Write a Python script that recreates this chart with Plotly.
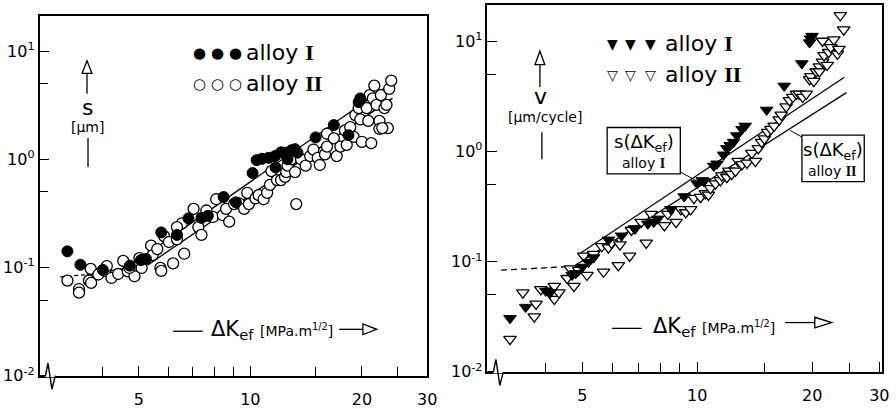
import plotly.graph_objects as go
import math

# ---------------- data: left panel, s [µm] vs ΔK_ef ----------------
s1_dk = [3.21, 3.48, 4.0, 4.73, 5.07, 5.23, 5.75, 6.34, 6.81, 7.38, 7.68, 8.47, 9.14,
         10.14, 10.4, 10.75, 11.2, 11.66, 12.1, 12.35, 11.7, 12.6, 12.9, 13.2, 13.4,
         15.0, 16.8, 18.4, 19.8, 19.6]
s1_s = [0.141, 0.106, 0.095, 0.104, 0.117, 0.12, 0.211, 0.20, 0.284, 0.287, 0.30, 0.448, 0.40,
        0.746, 0.98, 1.01, 1.03, 1.07, 1.16, 1.15, 0.84, 1.0, 1.21, 1.24, 1.15,
        1.59, 2.07, 1.67, 3.65, 3.37]

s2_dk = [3.21, 3.45, 3.45, 3.71, 3.67, 3.72, 3.89, 4.06, 4.10, 4.22, 4.40, 4.54, 4.67, 4.87,
         4.72, 5.02, 5.09, 5.40, 5.45, 5.61, 5.72, 5.75, 5.85, 6.03, 6.34, 6.19, 6.54, 6.34,
         6.63, 7.03, 7.24, 7.38, 7.61, 7.93, 8.09, 8.43, 8.6, 8.77, 9.04, 9.33, 9.62, 9.81,
         9.91, 10.32, 10.53, 10.86, 11.1, 11.4, 11.3, 11.8, 12.1, 12.4, 12.5, 12.6, 12.9,
         13.2, 13.3, 13.7, 14.1, 14.5, 14.8, 15.2, 15.4, 15.9, 16.1, 16.1, 16.8, 17.1, 17.5,
         18.0, 18.2, 18.6, 19.0, 19.2, 19.6, 19.8, 20.0, 20.6, 20.8, 21.0, 21.2, 21.4, 21.6,
         21.9, 22.3, 22.3, 22.5, 23.0, 23.3, 23.5, 23.7, 24.0, 22.7]
s2_s = [0.0757, 0.0632, 0.0585, 0.097, 0.0757, 0.072, 0.0861, 0.093, 0.103, 0.080, 0.087,
        0.115, 0.092, 0.083, 0.099, 0.122, 0.099, 0.159, 0.13, 0.148, 0.099, 0.093, 0.195,
        0.172, 0.182, 0.109, 0.256, 0.236, 0.134, 0.348, 0.236, 0.20, 0.336, 0.293, 0.427,
        0.304, 0.348, 0.265, 0.385, 0.39, 0.348, 0.49, 0.385, 0.435, 0.466, 0.427, 0.49,
        0.777, 0.58, 0.642, 0.642, 0.688, 0.762, 0.873, 1.0, 0.762, 0.385, 1.0, 0.873, 1.07,
        1.23, 1.03, 0.885, 1.11, 1.31, 1.72, 1.56, 1.07, 1.31, 1.85, 1.36, 1.98, 1.61, 2.56,
        2.97, 2.34, 1.45, 2.97, 2.26, 3.91, 1.41, 3.65, 4.79, 3.18, 2.26, 1.91, 3.91, 2.97,
        3.18, 1.94, 4.48, 5.33, 1.94]

# fitted s(ΔK_ef) curves, left panel
s_fit1_dk = [5.06, 23.9]
s_fit1_s = [0.121, 4.99]
s_fit2_dk = [5.28, 24.2]
s_fit2_s = [0.105, 3.67]
s_thr_dash_dk = [3.07, 3.62]
s_thr_dash_s = [0.082, 0.0857]
s_thr_solid_dk = [3.62, 4.5, 5.06]
s_thr_solid_s = [0.0857, 0.097, 0.121]

# ---------------- data: right panel, v [µm/cycle] vs ΔK_ef ----------------
v1_dk = [3.23, 3.55, 4.01, 4.11, 4.70, 4.80, 5.0, 5.19, 5.35, 5.85, 6.33, 6.85, 7.42, 7.88,
         8.53, 9.24, 10.0, 10.3, 11.05, 11.27, 11.72, 11.96, 12.2, 12.45, 12.7, 13.1, 13.35,
         15.2, 16.9, 18.8, 19.8, 20.0, 19.7, 6.87, 7.69, 10.4]
v1_v = [0.0306, 0.0387, 0.0542, 0.052, 0.0757, 0.0783, 0.0895, 0.099, 0.109, 0.158, 0.172,
        0.20, 0.221, 0.245, 0.299, 0.391, 0.512, 0.547, 0.74, 0.775, 0.935, 1.07, 1.14, 1.22,
        1.40, 1.60, 1.71, 2.39, 3.95, 6.31, 10.6, 11.2, 9.77, 0.199, 0.229, 0.535]

v2_dk = [3.23, 3.49, 3.74, 3.78, 3.89, 4.13, 4.22, 4.22, 4.34, 4.56, 4.65, 4.75, 4.89, 5.04,
         5.14, 5.35, 5.62, 5.68, 5.85, 5.96, 6.21, 6.27, 6.65, 6.72, 7.13, 7.35, 7.57, 7.72,
         8.2, 8.37, 8.8, 9.06, 9.33, 9.61, 9.8, 10.2, 10.5, 10.7, 10.83, 11.16, 11.5, 11.6,
         11.96, 12.1, 12.3, 12.6, 12.8, 13.1, 13.5, 13.9, 14.2, 14.45, 14.75, 15.0, 15.3,
         15.6, 15.9, 16.4, 16.6, 17.1, 17.45, 17.8, 18.2, 18.5, 18.9, 19.3, 19.7, 19.85,
         20.2, 20.5, 20.9, 21.3, 21.5, 21.9, 22.1, 22.4, 22.8, 23.3, 23.5, 24.2, 23.7,
         20.9, 21.3]
v2_v = [0.0198, 0.0524, 0.0317, 0.0414, 0.056, 0.0542, 0.0599, 0.0458, 0.0524, 0.0708,
        0.0866, 0.0599, 0.0837, 0.113, 0.0757, 0.117, 0.138, 0.081, 0.134, 0.148, 0.0926,
        0.143, 0.113, 0.194, 0.229, 0.148, 0.271, 0.237, 0.214, 0.271, 0.229, 0.299, 0.280,
        0.299, 0.378, 0.386, 0.418, 0.405, 0.463, 0.512, 0.547, 0.605, 0.585, 0.669, 0.625,
        0.669, 0.818, 0.765, 0.791, 0.967, 0.818, 1.07, 1.22, 1.31, 1.50, 1.60, 1.71, 1.95,
        2.16, 2.56, 2.92, 3.13, 3.34, 3.34, 3.13, 3.34, 4.52, 4.83, 4.37, 5.34, 5.91, 6.53,
        7.47, 6.11, 7.99, 8.84, 10.4, 7.72, 8.54, 12.8, 17.3, 5.34, 10.1]

# s(ΔK_ef) curves drawn in the right panel
v_fit1_dk = [4.89, 24.3]
v_fit1_v = [0.117, 4.74]
v_fit2_dk = [4.75, 24.6]
v_fit2_v = [0.091, 3.43]
v_thr_dash_dk = [3.06, 4.70]
v_thr_dash_v = [0.0838, 0.0907]

x_tickvals = [5, 10, 20, 30]
x_ticktext = ["5", "10", "20", "30"]
x_minor = [4, 6, 7, 8, 9, 15, 25]
y_tickvals = [0.01, 0.1, 1, 10]
y_ticktext = ["10<sup>-2</sup>", "10<sup>-1</sup>", "10<sup>0</sup>", "10<sup>1</sup>"]
y_minor = [0.05, 0.5, 5]

# ---------------- figure ----------------
W, H = 896, 409
FONT = "DejaVu Sans"


def P(x, y):
    return x / W, 1 - y / H


fig = go.Figure()


def add_line(xs, ys, ax, dash="solid"):
    fig.add_trace(go.Scatter(x=xs, y=ys, mode="lines", xaxis=ax[0], yaxis=ax[1],
                             line=dict(color="black", width=1.3, dash=dash),
                             hoverinfo="skip", showlegend=False))


L = ("x", "y")
R = ("x2", "y2")
add_line(s_fit1_dk, s_fit1_s, L)
add_line(s_fit2_dk, s_fit2_s, L)
add_line(s_thr_dash_dk, s_thr_dash_s, L, dash="4px,3px")
add_line(s_thr_solid_dk, s_thr_solid_s, L)
add_line(v_fit1_dk, v_fit1_v, R)
add_line(v_fit2_dk, v_fit2_v, R)
add_line(v_thr_dash_dk, v_thr_dash_v, R, dash="6px,4px")

open_m = dict(color="white", size=11, line=dict(color="black", width=1.3))
fill_m = dict(color="black", size=11, line=dict(color="black", width=1))

fig.add_trace(go.Scatter(x=s2_dk, y=s2_s, mode="markers", xaxis="x", yaxis="y",
                         marker=dict(symbol="circle", **open_m), name="alloy II", showlegend=False))
fig.add_trace(go.Scatter(x=s1_dk, y=s1_s, mode="markers", xaxis="x", yaxis="y",
                         marker=dict(symbol="circle", **fill_m), name="alloy I", showlegend=False))
fig.add_trace(go.Scatter(x=v2_dk, y=v2_v, mode="markers", xaxis="x2", yaxis="y2",
                         marker=dict(symbol="triangle-down", **open_m), name="alloy II", showlegend=False))
fig.add_trace(go.Scatter(x=v1_dk, y=v1_v, mode="markers", xaxis="x2", yaxis="y2",
                         marker=dict(symbol="triangle-down", **fill_m), name="alloy I", showlegend=False))

axis_common = dict(type="log", showline=True, linecolor="black", linewidth=1.6, mirror=True,
                   ticks="inside", ticklen=10, tickwidth=1.3, tickcolor="black",
                   showgrid=False, zeroline=False, tickfont=dict(family=FONT, size=16, color="black"))


def xax(domain, rng, anchor):
    return dict(domain=domain, range=rng, anchor=anchor, tickvals=x_tickvals, ticktext=x_ticktext,
                ticklabelstandoff=8,
                minor=dict(tickvals=x_minor, ticks="inside", ticklen=9, tickwidth=1.2,
                           tickcolor="black", showgrid=False),
                **axis_common)


def yax(domain, rng, anchor):
    return dict(domain=domain, range=rng, anchor=anchor, tickvals=y_tickvals, ticktext=y_ticktext,
                minor=dict(tickvals=y_minor, ticks="inside", ticklen=9, tickwidth=1.2,
                           tickcolor="black", showgrid=False),
                **axis_common)


fig.update_layout(
    width=W, height=H, margin=dict(l=0, r=0, t=0, b=0),
    paper_bgcolor="white", plot_bgcolor="white", showlegend=False,
    xaxis=xax([40 / W, 432 / W], [math.log10(2.70), math.log10(30)], "y"),
    yaxis=yax([1 - 389 / H, 1 - 17 / H], [-2, 1.32], "x"),
    xaxis2=xax([493 / W, 892 / W], [math.log10(2.82), math.log10(30.5)], "y2"),
    yaxis2=yax([1 - 385 / H, 1 - 5 / H], [-2, 1.333], "x2"),
)

ann = []


def text(x, y, t, size, xanchor="center", family=FONT):
    px_, py_ = P(x, y)
    ann.append(dict(x=px_, y=py_, xref="paper", yref="paper", text=t, showarrow=False,
                    xanchor=xanchor, yanchor="middle",
                    font=dict(family=family, size=size, color="black")))


ROM = "font-family:'Liberation Serif';font-weight:bold"

# left legend
for xc in (202, 220, 238):
    text(xc, 55, "●", 15)
    text(xc, 87, "○", 15)
text(247, 54, "alloy <span style=\"%s\">I</span>" % ROM, 22, xanchor="left")
text(247, 86, "alloy <span style=\"%s\">II</span>" % ROM, 22, xanchor="left")

# right legend
for xc in (619, 638, 658):
    text(xc, 46, "▼", 14)
    text(xc, 78, "▽", 14)
text(670, 45, "alloy <span style=\"%s\">I</span>" % ROM, 22, xanchor="left")
text(670, 77, "alloy <span style=\"%s\">II</span>" % ROM, 22, xanchor="left")

# y labels
text(88, 111, "s", 22)
text(88, 131, "[µm]", 14)
text(547, 100, "v", 22)
text(551, 121, "[µm/cycle]", 14)

# x labels
xl = "ΔK<sub>ef</sub> <span style=\"font-size:14px\">[MPa.m<sup>1/2</sup>]</span>"
text(211, 342, xl, 21, xanchor="left")
text(658, 339, xl, 21, xanchor="left")

# box labels
text(651, 148, "s(ΔK<sub>ef</sub>)", 18)
text(651, 169, "alloy <span style=\"%s\">I</span>" % ROM, 14)
text(842, 156, "s(ΔK<sub>ef</sub>)", 18)
text(842, 177, "alloy <span style=\"%s\">II</span>" % ROM, 14)

shapes = []


def seg(x0, y0, x1, y1, w=1.3, color="black"):
    a, b = P(x0, y0)
    c, d = P(x1, y1)
    shapes.append(dict(type="line", xref="paper", yref="paper", x0=a, y0=b, x1=c, y1=d,
                       line=dict(color=color, width=w)))


def poly(pts, fill="white", w=1.3, closed=True):
    s = ""
    for i, (x, y) in enumerate(pts):
        a, b = P(x, y)
        s += ("M" if i == 0 else "L") + " %.5f,%.5f " % (a, b)
    if closed:
        s += "Z"
    shapes.append(dict(type="path", xref="paper", yref="paper", path=s,
                       fillcolor=fill if closed else None, line=dict(color="black", width=w)))


def rect(x0, y0, x1, y1):
    a, b = P(x0, y0)
    c, d = P(x1, y1)
    shapes.append(dict(type="rect", xref="paper", yref="paper", x0=a, y0=b, x1=c, y1=d,
                       line=dict(color="black", width=1.3), fillcolor="rgba(0,0,0,0)"))


# left y arrow
seg(88, 97, 88, 76)
poly([(83, 76), (93, 76), (88, 63)])
seg(89, 143, 89, 173)
# right y arrow
seg(546, 90, 546, 67)
poly([(541, 67), (551, 67), (546, 53)])
seg(548, 137, 548, 165)
# left x arrow
seg(175, 343, 205, 343)
seg(343, 341, 367, 341)
poly([(367, 335.5), (367, 346.5), (381, 341)])
# right x arrow
seg(619, 340, 649, 340)
seg(794, 334, 824, 334)
poly([(824, 328.5), (824, 339.5), (841, 334)])
# boxes and leaders
rect(614, 132, 688, 180)
seg(688, 178, 704, 187, w=1)
rect(811, 140, 874, 188)
seg(811, 142, 799, 135, w=1)

# axis break zigzags
for cx, cy in ((40, 389), (493, 385)):
    seg(cx + 5.5, cy, cx + 16.5, cy, w=3, color="white")
    poly([(cx, cy), (cx + 6, cy), (cx + 8.5, cy - 13), (cx + 12.5, cy + 14), (cx + 16, cy)],
         closed=False, w=1.4)

fig.update_layout(annotations=ann, shapes=shapes)
fig.write_html("out.html")
